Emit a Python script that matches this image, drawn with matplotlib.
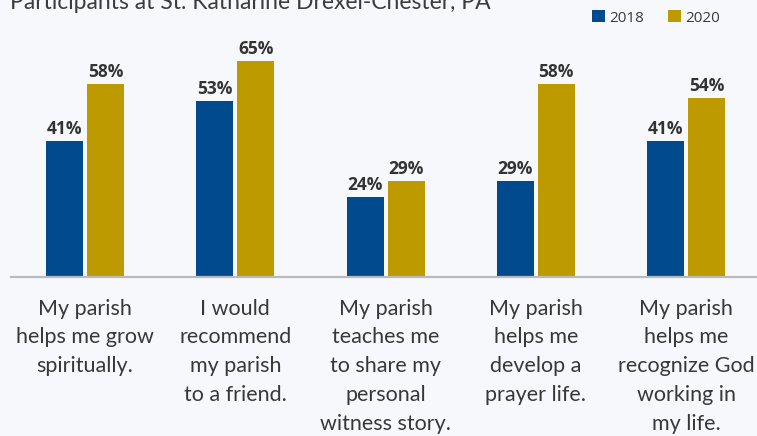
import matplotlib
matplotlib.use("Agg")
import matplotlib.pyplot as plt
from matplotlib.patches import Patch
import numpy as np

title = "Participants at St. Katharine Drexel-Chester, PA"
categories = [
    "My parish\nhelps me grow\nspiritually.",
    "I would\nrecommend\nmy parish\nto a friend.",
    "My parish\nteaches me\nto share my\npersonal\nwitness story.",
    "My parish\nhelps me\ndevelop a\nprayer life.",
    "My parish\nhelps me\nrecognize God\nworking in\nmy life.",
]
series_names = ["2018", "2020"]
values_2018 = [41, 53, 24, 29, 41]
values_2020 = [58, 65, 29, 58, 54]

BG = "#f7f8fc"
BLUE = "#004a8d"
GOLD = "#bd9a00"
TEXT = "#333333"

W, H = 757, 436
fig = plt.figure(figsize=(W / 100, H / 100), dpi=100, facecolor=BG)

# axes geometry in pixels
left_px, right_px = 11, 757
base_px = 277
ax = fig.add_axes([left_px / W, (H - base_px) / H, (right_px - left_px) / W, base_px / H])
ax.set_facecolor(BG)

spacing_px = 150.25
first_center_px = 85
ax.set_xlim((left_px - first_center_px) / spacing_px, (right_px - first_center_px) / spacing_px)
px_per_pct = 216 / 65
ax.set_ylim(0, base_px / px_per_pct)

x = np.arange(len(categories))
bw = 37 / spacing_px
off = 20.5 / spacing_px

b1 = ax.bar(x - off, values_2018, width=bw, color=BLUE, zorder=2)
b2 = ax.bar(x + off, values_2020, width=bw, color=GOLD, zorder=2)

for bars, vals in ((b1, values_2018), (b2, values_2020)):
    for rect, v in zip(bars, vals):
        ax.annotate(f"{v}%", (rect.get_x() + rect.get_width() / 2, rect.get_height()),
                    xytext=(0, 2), textcoords="offset points", ha="center", va="bottom",
                    fontsize=12.5, fontweight="bold", family="Open Sans", color=TEXT)

for s in ["top", "right", "left"]:
    ax.spines[s].set_visible(False)
ax.spines["bottom"].set_color("#b9b9c0")
ax.spines["bottom"].set_linewidth(1.6)
ax.set_yticks([])
ax.set_xticks(x)
ax.set_xticklabels(categories, fontsize=15.5, family="Lato", color="#383838", linespacing=1.55, va="top")
ax.tick_params(axis="x", length=0, pad=15.5)

fig.text(10 / W, 1 - 9 / H, title, fontsize=16.5, family="Lato", color="#3c3c3c", va="baseline", ha="left")

handles = [Patch(facecolor=BLUE, edgecolor="none"), Patch(facecolor=GOLD, edgecolor="none")]
leg = fig.legend(handles, series_names, loc="center left", bbox_to_anchor=(592 / W, 1 - 18 / H),
                 bbox_transform=fig.transFigure, ncol=2, frameon=False, borderpad=0, borderaxespad=0,
                 handlelength=0.85, handleheight=0.85, handletextpad=0.28, columnspacing=1.55,
                 prop={"family": "Open Sans", "size": 11})
for t in leg.get_texts():
    t.set_color("#3a3a3a")

fig.savefig("out.png", dpi=100, facecolor=BG)
